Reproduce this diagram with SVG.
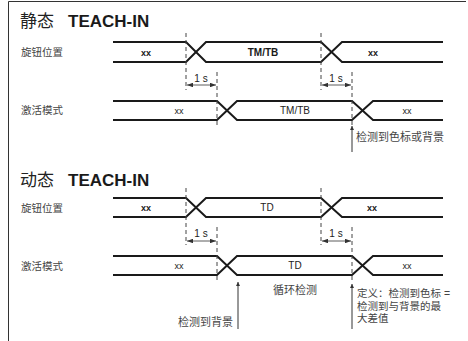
<svg xmlns="http://www.w3.org/2000/svg" width="468" height="341" viewBox="0 0 468 341">
<defs>
<marker id="ah" viewBox="0 0 8 6" refX="8" refY="3" markerWidth="6" markerHeight="4.5" orient="auto-start-reverse" markerUnits="userSpaceOnUse">
<path d="M0,0 L8,3 L0,6 z" fill="#333"/>
</marker>
<marker id="up" viewBox="0 0 8 8" refX="4" refY="0" markerWidth="4" markerHeight="6" orient="0" markerUnits="userSpaceOnUse">
<path d="M0,8 L4,0 L8,8 z" fill="#333"/>
</marker>
<style>
.frame{fill:none;stroke:#333;stroke-width:1}
.sig{fill:none;stroke:#1a1a1a;stroke-width:2;stroke-linejoin:miter}
.dash{fill:none;stroke:#444;stroke-width:1;stroke-dasharray:4 3}
.dim{fill:none;stroke:#333;stroke-width:0.8}
.ptr{fill:none;stroke:#333;stroke-width:1}
.title{font-family:"Liberation Sans",Arial,sans-serif;font-weight:bold;font-size:17px;fill:#1a1a1a}
.tcjk{font-family:"Noto Sans CJK SC",sans-serif;font-size:17px;fill:#222}
.lab{font-family:"Noto Sans CJK SC",sans-serif;font-size:10.5px;fill:#444}
.note{font-family:"Noto Sans CJK SC","Liberation Sans",sans-serif;font-size:11px;fill:#444}
.def{font-family:"Liberation Sans","Noto Sans CJK SC",sans-serif;font-size:10.5px;fill:#444}
.vb{font-family:"Liberation Sans",Arial,sans-serif;font-weight:bold;font-size:10px;fill:#1a1a1a;text-anchor:middle}
.vr{font-family:"Liberation Sans",Arial,sans-serif;font-size:10px;fill:#222;text-anchor:middle}
.xs{font-size:9px}
.one{font-family:"Liberation Sans",Arial,sans-serif;font-size:10px;fill:#222;text-anchor:middle}
</style>
</defs>
<rect width="468" height="341" fill="#fff"/>
<path class="frame" d="M8.5,341 V1.5 H466"/>

<g id="connectors">
<path class="sig" d="M113,42 H186 L206,62 H321 L342,42 H443"/>
<path class="sig" d="M113,62 H186 L206,42 H321 L342,62 H443"/>
<path class="sig" d="M113,101 H217 L237,120 H352 L373,101 H443"/>
<path class="sig" d="M113,120 H217 L237,101 H352 L373,120 H443"/>
<path class="dash" d="M186,33 V90 M217,72 V127 M321,33 V90 M352,72 V125"/>
<path class="dim" d="M187,85 H216" marker-start="url(#ah)" marker-end="url(#ah)"/>
<path class="dim" d="M322,85 H351" marker-start="url(#ah)" marker-end="url(#ah)"/>
<path class="ptr" d="M352,152 V126" marker-end="url(#up)"/>

<path class="sig" d="M113,198 H186 L206,217 H321 L342,198 H443"/>
<path class="sig" d="M113,217 H186 L206,198 H321 L342,217 H443"/>
<path class="sig" d="M113,256 H217 L237,275 H352 L373,256 H443"/>
<path class="sig" d="M113,275 H217 L237,256 H352 L373,275 H443"/>
<path class="dash" d="M186,188 V245 M217,227 V283 M321,188 V245 M352,227 V281"/>
<path class="dim" d="M187,241 H216" marker-start="url(#ah)" marker-end="url(#ah)"/>
<path class="dim" d="M322,241 H351" marker-start="url(#ah)" marker-end="url(#ah)"/>
<path class="ptr" d="M238,329 V282" marker-end="url(#up)"/>
<path class="ptr" d="M352,329 V284" marker-end="url(#up)"/>
</g>

<g id="static-title"><text x="20" y="27" class="tcjk">静态</text><text x="68" y="27" class="title">TEACH-IN</text></g>
<g id="static-knob-label"><text x="21" y="56" class="lab">旋钮位置</text></g>
<g id="static-act-label"><text x="21" y="114" class="lab">激活模式</text></g>
<g id="static-knob-values">
<text x="146" y="55.5" class="vb xs">xx</text>
<text x="263" y="55.5" class="vb">TM/TB</text>
<text x="373" y="55.5" class="vb xs">xx</text>
</g>
<g id="static-act-values">
<text x="179" y="114" class="vr xs">xx</text>
<text x="295" y="114" class="vr">TM/TB</text>
<text x="407" y="114" class="vr xs">xx</text>
</g>
<g id="static-1s"><text x="201" y="81.5" class="one">1 s</text><text x="336" y="81.5" class="one">1 s</text></g>
<g id="static-note"><text x="356" y="141" class="note">检测到色标或背景</text></g>

<g id="dynamic-title"><text x="20" y="186" class="tcjk">动态</text><text x="68" y="186" class="title">TEACH-IN</text></g>
<g id="dynamic-knob-label"><text x="21" y="212" class="lab">旋钮位置</text></g>
<g id="dynamic-act-label"><text x="21" y="270" class="lab">激活模式</text></g>
<g id="dynamic-knob-values">
<text x="146" y="211" class="vb xs">xx</text>
<text x="267" y="211" class="vr">TD</text>
<text x="372" y="211" class="vb xs">xx</text>
</g>
<g id="dynamic-act-values">
<text x="179" y="269" class="vr xs">xx</text>
<text x="295" y="269" class="vr">TD</text>
<text x="407" y="269" class="vr xs">xx</text>
</g>
<g id="dynamic-1s"><text x="201" y="236.5" class="one">1 s</text><text x="336" y="236.5" class="one">1 s</text></g>
<g id="cycle-label"><text x="295" y="294" class="note" text-anchor="middle">循环检测</text></g>
<g id="bg-note"><text x="233" y="326" class="note" text-anchor="end">检测到背景</text></g>
<g id="def-note">
<text class="def"><tspan x="357" y="297">定义：检测到色标 =</tspan><tspan x="357" y="309.5">检测到与背景的最</tspan><tspan x="357" y="322">大差值</tspan></text>
</g>
</svg>
